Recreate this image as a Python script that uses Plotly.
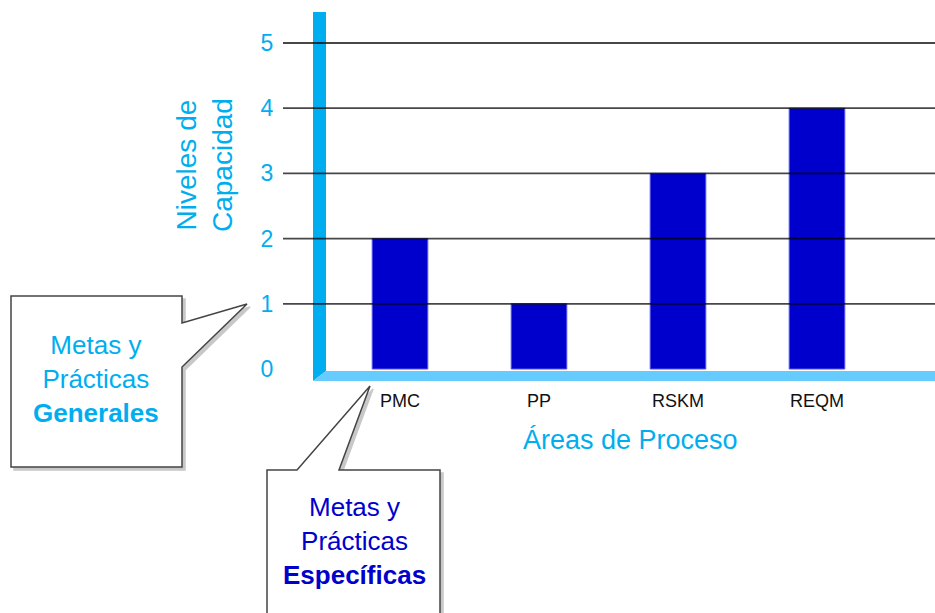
import plotly.graph_objects as go

# Data
categories = ["PMC", "PP", "RSKM", "REQM"]
levels = [2, 1, 3, 4]
tick_values = [0, 1, 2, 3, 4, 5]
tick_labels = ["0", "1", "2", "3", "4", "5"]
grid_values = [1, 2, 3, 4, 5]

W, H = 935, 613
L, R, T, B = 313, 0, 12, 232
PW = W - L - R
PH = H - T - B

def px(x):
    return (x - L) / PW

def py(y):
    return (H - B - y) / PH

FONT = "Liberation Sans, Arial, Helvetica, sans-serif"
CYAN = "#00AEEF"
LIGHT = "#66CCFF"
BLUE = "#0000CC"

fig = go.Figure()
fig.add_trace(go.Bar(
    x=categories, y=levels, width=0.40,
    marker=dict(color=BLUE, line=dict(color="#5555EE", width=1)),
    showlegend=False, hoverinfo="x+y",
))

shapes = []
# wall (y axis)
shapes.append(dict(type="path", xref="paper", yref="paper",
    path=f"M {px(313)} {py(12)} L {px(326)} {py(12)} L {px(326)} {py(371)} L {px(313)} {py(381)} Z",
    fillcolor=CYAN, line=dict(width=0), layer="above"))
# floor (x axis)
shapes.append(dict(type="path", xref="paper", yref="paper",
    path=f"M {px(313)} {py(381)} L {px(326)} {py(371)} L {px(935)} {py(371)} L {px(935)} {py(381)} Z",
    fillcolor=LIGHT, line=dict(width=0), layer="above"))
# grid lines with ticks
for v in grid_values:
    shapes.append(dict(type="line", xref="paper", yref="y",
        x0=px(283), x1=1, y0=v, y1=v,
        line=dict(color="rgba(0,0,0,0.72)", width=1.8), layer="above"))

def callout(pts):
    return "M " + " L ".join(f"{px(x)} {py(y)}" for x, y in pts) + " Z"

box1 = [(11, 296), (182, 296), (182, 323), (247, 304), (182, 367), (182, 467), (11, 467)]
box2 = [(267, 470), (297, 470), (370, 386), (339, 470), (440, 470), (440, 640), (267, 640)]
for box in (box1, box2):
    sh = [(x + 3, y + 3) for x, y in box]
    shapes.append(dict(type="path", xref="paper", yref="paper", path=callout(sh),
        fillcolor="#C8C8C8", line=dict(color="#C8C8C8", width=1.5), layer="above"))
    shapes.append(dict(type="path", xref="paper", yref="paper", path=callout(box),
        fillcolor="white", line=dict(color="#444444", width=1.5), layer="above"))

annotations = [
    dict(text="Niveles de<br>Capacidad", x=px(204), y=py(165), xref="paper", yref="paper",
         textangle=-90, showarrow=False, font=dict(family=FONT, size=28, color=CYAN),
         xanchor="center", yanchor="middle", align="center"),
    dict(text="Áreas de Proceso", x=px(630), y=py(440), xref="paper", yref="paper",
         showarrow=False, font=dict(family=FONT, size=27, color=CYAN),
         xanchor="center", yanchor="middle"),
    dict(text="Metas y<br>Prácticas<br><b>Generales</b>", x=px(96), y=py(379), xref="paper", yref="paper",
         showarrow=False, font=dict(family=FONT, size=26, color=CYAN),
         xanchor="center", yanchor="middle", align="center"),
    dict(text="Metas y<br>Prácticas<br><b>Específicas</b>", x=px(354), y=py(541), xref="paper", yref="paper",
         showarrow=False, font=dict(family=FONT, size=26, color=BLUE),
         xanchor="center", yanchor="middle", align="center"),
]

fig.update_layout(
    width=W, height=H,
    margin=dict(l=L, r=R, t=T, b=B, pad=0),
    paper_bgcolor="white", plot_bgcolor="white",
    shapes=shapes, annotations=annotations,
    xaxis=dict(type="category", range=[-87 / 139, (PW - 87) / 139],
               showgrid=False, zeroline=False, showline=False,
               ticks="outside", ticklen=3, tickcolor="rgba(0,0,0,0)",
               tickfont=dict(family=FONT, size=18, color="#111111")),
    yaxis=dict(range=[-12 / 65.2, (369 - 12) / 65.2],
               tickvals=tick_values, ticktext=tick_labels,
               showgrid=False, zeroline=False, showline=False,
               ticks="outside", ticklen=34, tickcolor="rgba(0,0,0,0)",
               tickfont=dict(family=FONT, size=23, color=CYAN)),
    font=dict(family=FONT),
)

fig.write_html("out.html")
